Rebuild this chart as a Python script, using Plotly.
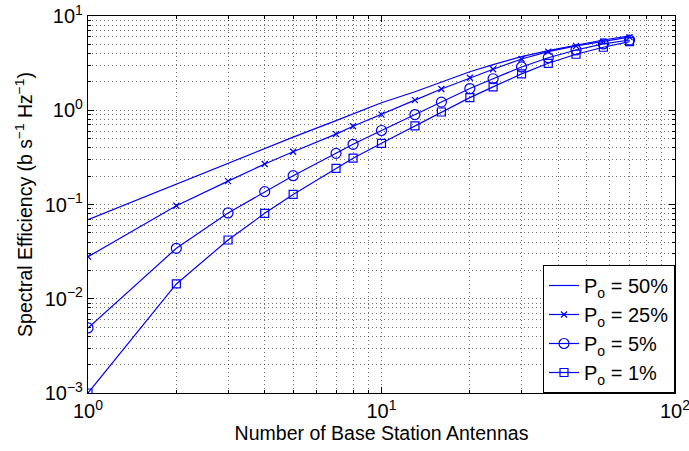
import plotly.graph_objects as go

# Number of base station antennas (common x-grid for all curves)
antennas = [1, 2, 3, 4, 5, 7, 8, 10, 13, 16, 20, 24, 30, 37, 46, 57, 70]

# Spectral efficiency (b/s/Hz) for each outage probability
se_p50 = [0.069, 0.165, 0.273, 0.39, 0.518, 0.777, 0.917, 1.2, 1.57, 2.0, 2.56,
          3.05, 3.7, 4.29, 4.92, 5.56, 6.15]
se_p25 = [0.0279, 0.097, 0.177, 0.269, 0.363, 0.558, 0.677, 0.9, 1.28, 1.68, 2.21,
          2.72, 3.5, 4.19, 4.81, 5.38, 5.98]
se_p5 = [0.0049, 0.0343, 0.0813, 0.137, 0.202, 0.349, 0.435, 0.61, 0.9, 1.22, 1.7,
         2.16, 2.88, 3.61, 4.36, 5.05, 5.56]
se_p1 = [0.001, 0.01435, 0.042, 0.0806, 0.128, 0.242, 0.31, 0.446, 0.683, 0.958, 1.36,
         1.77, 2.43, 3.15, 3.93, 4.66, 5.35]

legend_names = ["P<sub>o</sub> = 50%", "P<sub>o</sub> = 25%",
                "P<sub>o</sub> = 5%", "P<sub>o</sub> = 1%"]

x_tickvals = [1, 10, 100]
x_ticktext = ["10<sup>0</sup>", "10<sup>1</sup>", "10<sup>2</sup>"]
y_tickvals = [0.001, 0.01, 0.1, 1, 10]
y_ticktext = ["10<sup>\u22123</sup>", "10<sup>\u22122</sup>", "10<sup>\u22121</sup>",
              "10<sup>0</sup>", "10<sup>1</sup>"]

BLUE = "rgb(0,0,255)"
FONT = "Liberation Sans, Arial, sans-serif"
GRID = "rgba(0,0,0,0.55)"
DOT = "1px,3px"

fig = go.Figure()
fig.add_trace(go.Scatter(x=antennas, y=se_p50, mode="lines", name=legend_names[0],
                         line=dict(color=BLUE, width=1.2)))
fig.add_trace(go.Scatter(x=antennas, y=se_p25, mode="lines+markers", name=legend_names[1],
                         line=dict(color=BLUE, width=1.2),
                         marker=dict(symbol="x-thin-open", size=6,
                                     line=dict(color=BLUE, width=1.2))))
fig.add_trace(go.Scatter(x=antennas, y=se_p5, mode="lines+markers", name=legend_names[2],
                         line=dict(color=BLUE, width=1.2),
                         marker=dict(symbol="circle-open", size=10, color=BLUE,
                                     line=dict(color=BLUE, width=1.2))))
fig.add_trace(go.Scatter(x=antennas, y=se_p1, mode="lines+markers", name=legend_names[3],
                         line=dict(color=BLUE, width=1.2),
                         marker=dict(symbol="square-open", size=8, color=BLUE,
                                     line=dict(color=BLUE, width=1.2))))

# minor grid positions (2..9 within each decade)
x_minor = [m * 10 ** d for d in range(0, 2) for m in range(2, 10)]
y_minor = [m * 10 ** d for d in range(-3, 1) for m in range(2, 10)]

axis_common = dict(
    type="log",
    showline=True, linecolor="black", linewidth=1.3, mirror="allticks",
    ticks="inside", ticklen=6, tickcolor="black", tickwidth=1,
    showgrid=True, gridcolor=GRID, griddash=DOT, gridwidth=1,
    zeroline=False, automargin=False,
    ticklabeloverflow="allow",
    tickfont=dict(family=FONT, size=20, color="black"),
)

fig.update_xaxes(
    **axis_common,
    range=[0, 2],
    tickvals=x_tickvals, ticktext=x_ticktext,
    minor=dict(tickvals=x_minor, ticks="inside", ticklen=3, tickcolor="black",
               showgrid=True, gridcolor=GRID, griddash=DOT, gridwidth=1),
    title=dict(text="Number of Base Station Antennas",
               font=dict(family=FONT, size=19.5, color="black"), standoff=0),
)
fig.update_yaxes(
    **axis_common,
    range=[-3, 1],
    tickvals=y_tickvals, ticktext=y_ticktext,
    minor=dict(tickvals=y_minor, ticks="inside", ticklen=3, tickcolor="black",
               showgrid=True, gridcolor=GRID, griddash=DOT, gridwidth=1),
    title=dict(text="Spectral Efficiency (b s<sup>\u22121</sup> Hz<sup>\u22121</sup>)",
               font=dict(family=FONT, size=19.5, color="black"), standoff=6),
)

fig.update_layout(
    width=689, height=451,
    margin=dict(l=88, r=14, t=16, b=58, autoexpand=False),
    paper_bgcolor="white", plot_bgcolor="white",
    font=dict(family=FONT, color="black"),
    showlegend=True,
    legend=dict(x=1, y=0, xanchor="right", yanchor="bottom",
                bgcolor="white", bordercolor="black", borderwidth=1,
                font=dict(family=FONT, size=20, color="black"),
                itemwidth=30, tracegroupgap=0),
)

fig.write_html("out.html")
